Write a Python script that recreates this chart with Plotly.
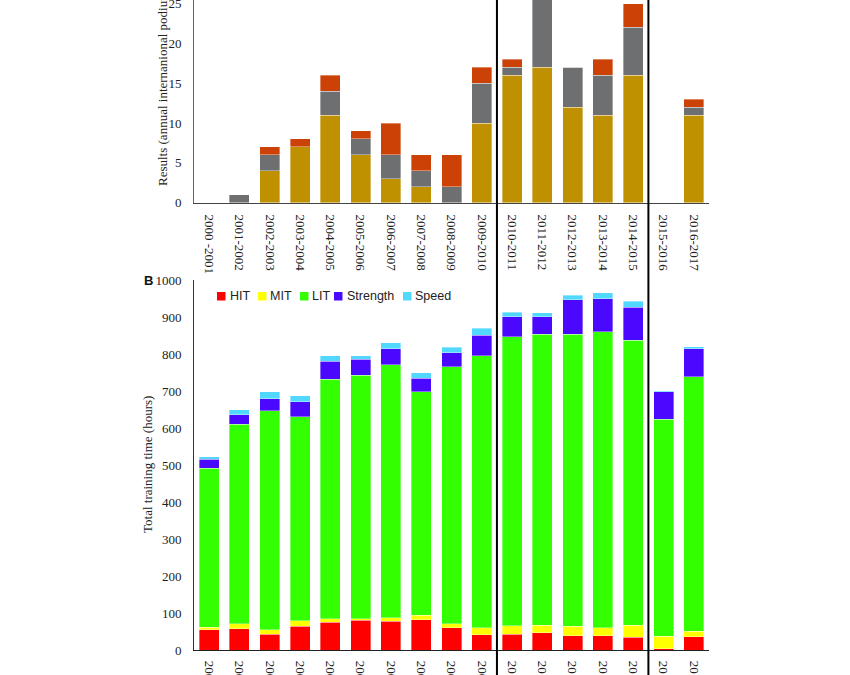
import plotly.graph_objects as go

# ---------------- data ----------------
seasons = ["2000 -2001", "2001-2002", "2002-2003", "2003-2004", "2004-2005",
           "2005-2006", "2006-2007", "2007-2008", "2008-2009", "2009-2010",
           "2010-2011", "2011-2012", "2012-2013", "2013-2014", "2014-2015",
           "2015-2016", "2016-2017"]

# Panel A: annual international podiums
podium_gold   = [0, 0, 4, 7, 11, 6, 3, 2, 0, 10, 16, 17, 12, 11, 16, 0, 11]
podium_silver = [0, 1, 2, 0, 3, 2, 3, 2, 2, 5, 1, 10, 5, 5, 6, 0, 1]
podium_bronze = [0, 0, 1, 1, 2, 1, 4, 2, 4, 2, 1, 0, 0, 2, 3, 0, 1]

# Panel B: training time (hours)
train_names = ["HIT", "MIT", "LIT", "Strength", "Speed"]
hit      = [55, 57, 42, 64, 75, 80, 78, 82, 60, 41, 42, 46, 38, 38, 35, 4, 36]
mit      = [7, 14, 13, 15, 9, 4, 9, 12, 11, 19, 23, 21, 26, 22, 32, 33, 15]
lit      = [429, 539, 592, 552, 648, 659, 684, 604, 694, 735, 781, 786, 789, 800, 770, 586, 687]
strength = [24, 26, 32, 40, 49, 43, 43, 36, 39, 56, 55, 48, 93, 90, 90, 75, 76]
speed    = [7, 13, 19, 16, 14, 9, 16, 16, 14, 19, 12, 11, 13, 16, 15, 3, 6]

podium_y_ticks = [0, 5, 10, 15, 20, 25]
train_y_ticks = [0, 100, 200, 300, 400, 500, 600, 700, 800, 900, 1000]

# ---------------- styling ----------------
W, H = 850, 675
ML, MR, MT, MB = 194, 141, 0, 25
PW, PH = W - ML - MR, H - MT - MB

def px2x(px):
    return (px - ML) / PW

def px2y(py):
    return (H - MB - py) / PH

medal_colors = ["#BF9000", "#6D6F71", "#CC4206"]
train_colors = ["#FF0000", "#FFFF00", "#33FF00", "#4A08FF", "#52D8FF"]

serif = "Liberation Serif"
sans = "Liberation Sans"

fig = go.Figure()

for name, vals, col in zip(["Gold", "Silver", "Bronze"],
                           [podium_gold, podium_silver, podium_bronze], medal_colors):
    fig.add_trace(go.Bar(x=seasons, y=vals, name=name, marker_color=col,
                         marker_line=dict(width=0.6, color="rgba(255,255,255,0.6)"),
                         xaxis="x", yaxis="y", showlegend=False))

for name, vals, col in zip(train_names, [hit, mit, lit, strength, speed], train_colors):
    fig.add_trace(go.Bar(x=seasons, y=vals, name=name, marker_color=col,
                         marker_line=dict(width=0.6, color="rgba(255,255,255,0.6)"),
                         xaxis="x2", yaxis="y2", showlegend=False))

axis_common = dict(showgrid=False, zeroline=False, automargin=False,
                   ticklabeloverflow="allow",
                   tickfont=dict(family=serif, size=13, color="#222222"))

fig.update_layout(
    template="none",
    width=W, height=H,
    margin=dict(l=ML, r=MR, t=MT, b=MB, pad=0),
    paper_bgcolor="white", plot_bgcolor="white",
    barmode="stack", bargap=0.34,
    showlegend=False,
    xaxis=dict(domain=[0, 1], anchor="y", type="category", range=[-0.5, 16.5],
               showline=True, linecolor="#444444", linewidth=1.2,
               ticks="", tickangle=90, ticklabelstandoff=8, **axis_common),
    yaxis=dict(domain=[px2y(202.7), 1], anchor="x", range=[0, 25.44],
               tickvals=podium_y_ticks, showline=True, linecolor="#666666", linewidth=1,
               ticks="", ticklabelstandoff=9, **axis_common),
    xaxis2=dict(domain=[0, 1], anchor="y2", type="category", range=[-0.5, 16.5],
                showline=True, linecolor="#222222", linewidth=1.2,
                ticks="", tickangle=90, ticklabelstandoff=7, **axis_common),
    yaxis2=dict(domain=[0, px2y(280)], anchor="x2", range=[0, 1000],
                tickvals=train_y_ticks, showline=True, linecolor="#333333", linewidth=1,
                ticks="", ticklabelstandoff=9, **axis_common),
)

# period separators
for xv in [9.5, 14.5]:
    fig.add_shape(type="line", xref="x", yref="paper", x0=xv, x1=xv,
                  y0=px2y(H + 5), y1=px2y(-5), line=dict(color="black", width=2))

# axis titles
fig.add_annotation(text="Results (annual internanional podiums)", textangle=-90,
                   xref="paper", yref="paper", x=px2x(162), y=px2y(84),
                   xanchor="center", yanchor="middle", showarrow=False,
                   font=dict(family=serif, size=13, color="#222222"))
fig.add_annotation(text="Total training time (hours)", textangle=-90,
                   xref="paper", yref="paper", x=px2x(147), y=px2y(465),
                   xanchor="center", yanchor="middle", showarrow=False,
                   font=dict(family=serif, size=13, color="#222222"))

# panel label
fig.add_annotation(text="<b>B</b>", xref="paper", yref="paper",
                   x=px2x(142), y=px2y(280), xanchor="left", yanchor="middle",
                   showarrow=False, font=dict(family=sans, size=13, color="#111111"))

# manual legend for panel B
sq_left = [217, 258, 300, 334, 403]
txt_left = [228, 268, 310, 345, 413]
ly = 296
for name, col, sx, tx in zip(train_names, train_colors, sq_left, txt_left):
    fig.add_shape(type="rect", xref="paper", yref="paper",
                  x0=px2x(sx), x1=px2x(sx + 8.5), y0=px2y(ly + 4.5), y1=px2y(ly - 4),
                  fillcolor=col, line=dict(width=0))
    fig.add_annotation(text=name, xref="paper", yref="paper", x=px2x(tx), y=px2y(ly),
                       xanchor="left", yanchor="middle", showarrow=False,
                       font=dict(family=sans, size=12.5, color="#222222"))

fig.write_html("out.html", config={"displayModeBar": False},
               post_script="document.body.style.margin='0px';document.body.style.overflow='hidden';")
